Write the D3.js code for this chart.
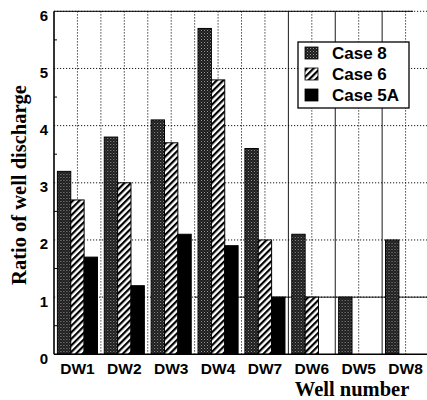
<!DOCTYPE html>
<html>
<head>
<meta charset="utf-8">
<script src="https://cdn.jsdelivr.net/npm/d3@7/dist/d3.min.js"></script>
<style>
  html, body { margin: 0; padding: 0; background: #fff; }
  svg { display: block; }
</style>
</head>
<body>
<svg id="chart" width="427" height="400"></svg>
<script>
// Well discharge ratios for three model cases
const wells = ["DW1", "DW2", "DW3", "DW4", "DW7", "DW6", "DW5", "DW8"];
const seriesNames = ["Case 8", "Case 6", "Case 5A"];
const case8  = [3.2, 3.8, 4.1, 5.7, 3.6, 2.1, 1.0, 2.0];
const case6  = [2.7, 3.0, 3.7, 4.8, 2.0, 1.0, null, null];
const case5A = [1.7, 1.2, 2.1, 1.9, 1.0, null, null, null];
const yTicks = [0, 1, 2, 3, 4, 5, 6];
const yTitle = "Ratio of well discharge";
const xTitle = "Well number";

const seriesValues = [case8, case6, case5A];

const svg = d3.select("#chart");
const plotLeft = 54, plotRight = 429, plotTop = 11.3, plotBottom = 354.3;

const defs = svg.append("defs");
// dark stipple fill
const stip = defs.append("pattern").attr("id", "stipple")
  .attr("patternUnits", "userSpaceOnUse").attr("width", 3).attr("height", 3);
stip.append("rect").attr("width", 3).attr("height", 3).attr("fill", "#1a1a1a");
stip.append("rect").attr("x", 0).attr("y", 0).attr("width", 1).attr("height", 1).attr("fill", "#9a9a9a");
stip.append("rect").attr("x", 1.5).attr("y", 1.5).attr("width", 1).attr("height", 1).attr("fill", "#6a6a6a");
// diagonal hatch fill
const hatch = defs.append("pattern").attr("id", "hatch")
  .attr("patternUnits", "userSpaceOnUse").attr("width", 4.6).attr("height", 4.6)
  .attr("patternTransform", "rotate(45)");
hatch.append("rect").attr("width", 4.6).attr("height", 4.6).attr("fill", "#fff");
hatch.append("rect").attr("x", 0).attr("y", 0).attr("width", 2.2).attr("height", 4.6).attr("fill", "#000");

const fills = ["url(#stipple)", "url(#hatch)", "#000"];

const x0 = d3.scaleBand().domain(wells).range([plotLeft, plotRight])
  .paddingInner(0.145).paddingOuter(0.0725);
const x1 = d3.scaleBand().domain(seriesNames).range([0, x0.bandwidth()]).padding(0);
const y = d3.scaleLinear().domain([0, 6]).range([plotBottom, plotTop]);

const step = x0.step();
const gridXs = d3.range(0, 2 * wells.length + 1).map(k => plotLeft + k * step / 2);

const grid = svg.append("g");
// horizontal grid
grid.selectAll("line.h").data(yTicks.slice(1)).join("line")
  .attr("x1", plotLeft).attr("x2", plotRight)
  .attr("y1", d => y(d)).attr("y2", d => y(d))
  .attr("stroke", "#000").attr("stroke-width", 0.9)
  .attr("stroke-dasharray", "1.2,1.8");
// vertical grid: dotted, with solid group separators on the right side
grid.selectAll("line.v").data(gridXs.slice(1)).join("line")
  .attr("x1", d => d).attr("x2", d => d)
  .attr("y1", plotTop).attr("y2", plotBottom)
  .attr("stroke", "#000").attr("stroke-width", 0.9)
  .attr("stroke-dasharray", (d, i) => ((i + 1) % 2 === 0 && (i + 1) >= 10) ? null : "1.2,1.8");
// solid part of the unit line on the right side
grid.append("line")
  .attr("x1", x0("DW4") - 3).attr("x2", plotRight)
  .attr("y1", y(1)).attr("y2", y(1))
  .attr("stroke", "#000").attr("stroke-width", 0.9);

// bars
const groups = svg.append("g").selectAll("g").data(wells).join("g")
  .attr("transform", d => `translate(${x0(d)},0)`);
groups.selectAll("rect")
  .data((w, i) => seriesNames.map((s, j) => ({ s, j, v: seriesValues[j][i] })).filter(d => d.v != null))
  .join("rect")
  .attr("x", d => x1(d.s))
  .attr("width", x1.bandwidth())
  .attr("y", d => y(d.v))
  .attr("height", d => y(0) - y(d.v))
  .attr("fill", d => fills[d.j])
  .attr("stroke", "#000").attr("stroke-width", 1);

// frame
svg.append("line").attr("x1", plotLeft).attr("x2", plotLeft).attr("y1", plotTop).attr("y2", plotBottom)
  .attr("stroke", "#000").attr("stroke-width", 1.6);
svg.append("line").attr("x1", plotLeft).attr("x2", plotRight).attr("y1", plotBottom).attr("y2", plotBottom)
  .attr("stroke", "#000").attr("stroke-width", 1.6);
svg.append("line").attr("x1", plotLeft).attr("x2", 413).attr("y1", plotTop).attr("y2", plotTop)
  .attr("stroke", "#000").attr("stroke-width", 1);

// minor ticks on the value axis
svg.append("g").selectAll("line").data(d3.range(0.5, 6, 1)).join("line")
  .attr("x1", plotLeft).attr("x2", plotLeft + 3)
  .attr("y1", d => y(d)).attr("y2", d => y(d))
  .attr("stroke", "#000").attr("stroke-width", 1);

// value axis labels
const yAxis = d3.axisLeft(y).tickValues(yTicks).tickSize(0).tickPadding(6).tickFormat(d3.format("d"));
const ya = svg.append("g").attr("transform", `translate(${plotLeft},0)`).call(yAxis);
ya.select(".domain").remove();
ya.selectAll("text")
  .attr("dy", "0.6em")
  .style("font-family", "'Liberation Sans', Arial, sans-serif")
  .style("font-weight", "bold").style("font-size", "15px").attr("fill", "#000");

// category axis labels
const xAxis = d3.axisBottom(x0).tickSize(0).tickPadding(9);
const xa = svg.append("g").attr("transform", `translate(0,${plotBottom})`).call(xAxis);
xa.select(".domain").remove();
xa.selectAll("text")
  .style("font-family", "'Liberation Sans', Arial, sans-serif")
  .style("font-weight", "bold").style("font-size", "15.5px").attr("fill", "#000");

// axis titles
svg.append("text")
  .attr("transform", "translate(26,185) rotate(-90)")
  .attr("text-anchor", "middle")
  .style("font-family", "'Liberation Serif', 'Times New Roman', serif")
  .style("font-weight", "bold").style("font-size", "20.5px")
  .text(yTitle);
svg.append("text")
  .attr("x", 352).attr("y", 396)
  .attr("text-anchor", "middle")
  .style("font-family", "'Liberation Serif', 'Times New Roman', serif")
  .style("font-weight", "bold").style("font-size", "20.5px")
  .text(xTitle);

// legend
const lg = svg.append("g").attr("transform", "translate(298,42)");
lg.append("rect").attr("width", 111).attr("height", 66)
  .attr("fill", "#fff").attr("stroke", "#000").attr("stroke-width", 1.3);
const items = lg.selectAll("g").data(seriesNames).join("g")
  .attr("transform", (d, i) => `translate(0,${i * 21})`);
items.append("rect").attr("x", 7).attr("y", 5).attr("width", 13).attr("height", 12)
  .attr("fill", (d, i) => fills[i]).attr("stroke", "#000").attr("stroke-width", 0.8);
items.append("text").attr("x", 34).attr("y", 17)
  .style("font-family", "'Liberation Sans', Arial, sans-serif")
  .style("font-weight", "bold").style("font-size", "17px")
  .text(d => d);
</script>
</body>
</html>
